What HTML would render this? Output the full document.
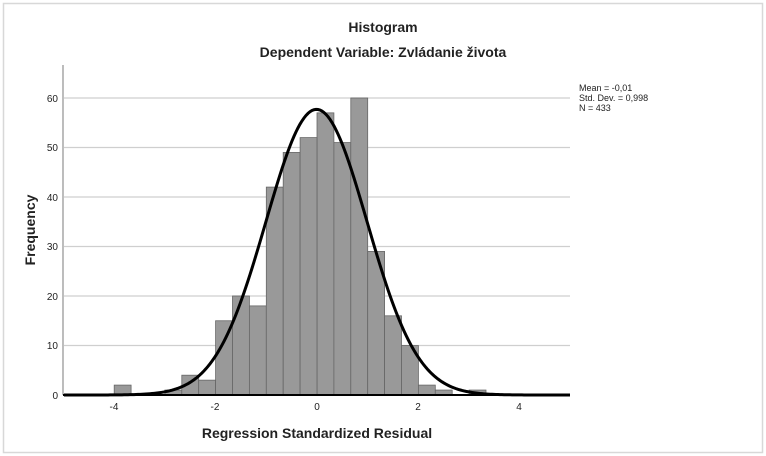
<!DOCTYPE html>
<html><head><meta charset="utf-8"><style>
html,body{margin:0;padding:0;background:#fff;width:766px;height:456px;overflow:hidden}
text{font-family:"Liberation Sans",Arial,sans-serif}
</style></head><body>
<svg id="s" width="766" height="456" xmlns="http://www.w3.org/2000/svg">
<rect x="3.5" y="3.5" width="759" height="449" fill="#fff" stroke="#d8d8d8" stroke-width="1.5"/>
<text x="383" y="32" font-size="14" font-weight="bold" text-anchor="middle" fill="#222">Histogram</text>
<text x="383" y="57" font-size="14" font-weight="bold" text-anchor="middle" fill="#222">Dependent Variable: Zvládanie života</text>
<g stroke="#cfcfcf" stroke-width="1.3">
<line x1="64" x2="570" y1="345.5" y2="345.5"/><line x1="64" x2="570" y1="296" y2="296"/>
<line x1="64" x2="570" y1="246.5" y2="246.5"/><line x1="64" x2="570" y1="197" y2="197"/>
<line x1="64" x2="570" y1="147.5" y2="147.5"/><line x1="64" x2="570" y1="98" y2="98"/>
</g>
<line x1="63" x2="63" y1="65" y2="395" stroke="#999" stroke-width="1.3"/>
<g id="bars" fill="#999" stroke="#666" stroke-width="0.8"></g>
<line x1="63" x2="570" y1="395" y2="395" stroke="#000" stroke-width="2"/>
<path id="curve" fill="none" stroke="#000" stroke-width="3"/>
<g font-size="10" fill="#222" text-anchor="end">
<text x="58" y="399">0</text><text x="58" y="349">10</text><text x="58" y="300">20</text>
<text x="58" y="250">30</text><text x="58" y="201">40</text><text x="58" y="151">50</text><text x="58" y="102">60</text>
</g>
<g font-size="10" fill="#222" text-anchor="middle">
<text x="114" y="410">-4</text><text x="215" y="410">-2</text><text x="317" y="410">0</text>
<text x="418" y="410">2</text><text x="519" y="410">4</text>
</g>
<text x="317" y="438" font-size="14" font-weight="bold" text-anchor="middle" fill="#222">Regression Standardized Residual</text>
<text transform="translate(35,230) rotate(-90)" font-size="14" font-weight="bold" text-anchor="middle" fill="#222">Frequency</text>
<g font-size="9" fill="#222">
<text x="579" y="91">Mean = -0,01</text><text x="579" y="101">Std. Dev. = 0,998</text><text x="579" y="111">N = 433</text>
</g>
</svg>
<script>
var h={"-12":2,"-9":1,"-8":4,"-7":3,"-6":15,"-5":20,"-4":18,"-3":42,"-2":49,"-1":52,"0":57,"1":51,"2":60,"3":29,"4":16,"5":10,"6":2,"7":1,"9":1};
var g=document.getElementById('bars'),ns="http://www.w3.org/2000/svg";
for(var k in h){var i=+k,r=document.createElementNS(ns,'rect');var x=317+16.9*i,hh=h[k]*4.95;
r.setAttribute('x',x);r.setAttribute('y',395-hh);r.setAttribute('width',16.9);r.setAttribute('height',hh);g.appendChild(r);}
var d="";for(var px=64;px<=570;px+=2){var v=(px-317)/50.7;var f=433/3/0.998*Math.exp(-0.5*Math.pow((v+0.01)/0.998,2))/Math.sqrt(2*Math.PI);
d+=(d?"L":"M")+px+","+(395-4.95*f).toFixed(2);}
document.getElementById('curve').setAttribute('d',d);
</script>
</body></html>
